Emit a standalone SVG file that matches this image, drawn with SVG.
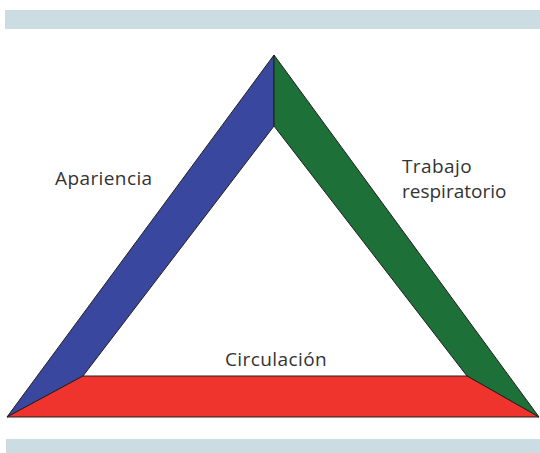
<svg xmlns="http://www.w3.org/2000/svg" width="540" height="453" viewBox="0 0 540 453">
<style>
.bar{fill:#ccdce3}
.side{stroke:#231f20;stroke-width:1;stroke-linejoin:miter}
.lbl{font-family:"Open Sans","DejaVu Sans",sans-serif;font-size:19px;letter-spacing:0.4px;fill:#333333}
</style>
<rect width="540" height="453" fill="#ffffff"/>
<rect class="bar" x="5" y="10" width="535" height="19"/>
<rect class="bar" x="6" y="439" width="534" height="14"/>
<g id="triangle">
<g id="apariencia">
<polygon class="side" fill="#3a479e" points="274,55 7,417 83,376 274,126"/>
<text class="lbl" x="55" y="185">Apariencia</text>
</g>
<g id="trabajo-respiratorio">
<polygon class="side" fill="#1c7038" points="274,55 539,417 467,376 274,126"/>
<text class="lbl" x="402" y="173" font-size="18.5">Trabajo<tspan x="402" y="198" letter-spacing="0">respiratorio</tspan></text>
</g>
<g id="circulacion">
<polygon class="side" fill="#ee342c" points="7,417 539,417 467,376 83,376"/>
<text class="lbl" x="225" y="366">Circulación</text>
</g>
</g>
<g id="connectors"></g>
</svg>
